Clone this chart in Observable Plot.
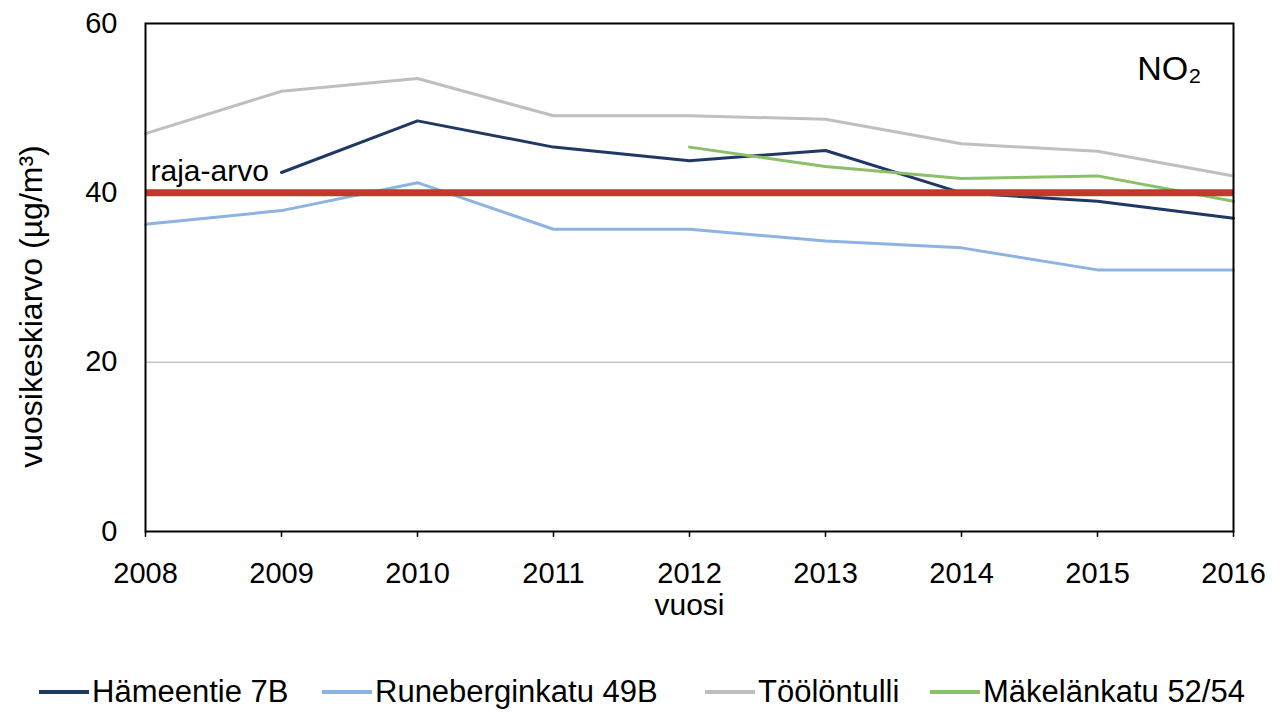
<!DOCTYPE html>
<html>
<head>
<meta charset="utf-8">
<script src="https://cdn.jsdelivr.net/npm/d3@7"></script>
<script src="https://cdn.jsdelivr.net/npm/@observablehq/plot@0.6"></script>
<style>
  body { margin: 0; background: #fff; font-family: "Liberation Sans", Arial, sans-serif; }
  #wrap { position: relative; width: 1284px; height: 715px; }
  #legend { position: absolute; left: 0; top: 674px; width: 1284px; height: 40px; font-size: 31px; color: #000; }
  .item { position: absolute; top: 0; display: flex; align-items: center; white-space: nowrap; }
  .sw { width: 50px; height: 4px; margin-right: 3px; }
</style>
</head>
<body>
<div id="wrap">
  <div id="chart"></div>
  <div id="legend"></div>
</div>
<script>
const years = [2008, 2009, 2010, 2011, 2012, 2013, 2014, 2015, 2016];
const seriesNames = ["Hämeentie 7B", "Runeberginkatu 49B", "Töölöntulli", "Mäkelänkatu 52/54"];
const seriesColors = ["#1f3864", "#8db3e2", "#bfbfbf", "#8cc068"];
const hameentie = [null, 42.4, 48.5, 45.4, 43.8, 45.0, 40.0, 39.0, 37.0];
const runeberginkatu = [36.3, 37.9, 41.2, 35.7, 35.7, 34.3, 33.5, 30.9, 30.9];
const toolontulli = [47.0, 52.0, 53.5, 49.1, 49.1, 48.7, 45.8, 44.9, 42.0];
const makelankatu = [null, null, null, null, 45.4, 43.1, 41.7, 42.0, 39.0];
const limitValue = 40;
const yTicks = [0, 20, 40, 60];
const gridValues = [20];

const seriesValues = [hameentie, runeberginkatu, toolontulli, makelankatu];
const data = [];
seriesValues.forEach((vals, i) => {
  vals.forEach((v, j) => data.push({series: seriesNames[i], year: years[j], value: v}));
});

const H = 650;
const chart = Plot.plot({
  width: 1284,
  height: H,
  marginTop: 23,
  marginLeft: 145,
  marginRight: 51,
  marginBottom: H - 531,
  style: {fontFamily: "'Liberation Sans', Arial, sans-serif", fontSize: "29px", color: "#000", background: "#fff"},
  x: {domain: [2008, 2016]},
  y: {domain: [0, 60]},
  color: {domain: seriesNames, range: seriesColors},
  marks: [
    Plot.ruleY(gridValues, {stroke: "#a6a6a6", strokeWidth: 1}),
    Plot.line(data, {x: "year", y: "value", z: "series", stroke: "series", strokeWidth: 3, defined: d => d.value != null}),
    Plot.ruleY([limitValue], {stroke: "#c0392b", strokeWidth: 7}),
    Plot.frame({stroke: "#000", strokeWidth: 2}),
    Plot.axisX({ticks: years, tickSize: 6, tickPadding: 25, tickFormat: d => String(d), label: null, stroke: "#000", strokeWidth: 1.5}),
    Plot.axisY({ticks: yTicks, tickSize: 0, tickPadding: 28, label: null}),
    Plot.text(["vuosi"], {frameAnchor: "bottom", dy: 74, textAnchor: "middle", lineAnchor: "middle", fontSize: 30, fill: "#000"}),
    Plot.text(["vuosikeskiarvo (µg/m³)"], {frameAnchor: "left", rotate: -90, dx: -114, dy: 29, textAnchor: "middle", lineAnchor: "middle", fontSize: 32, fill: "#000"}),
    Plot.text(["NO₂"], {frameAnchor: "top-right", dx: -32, dy: 46, textAnchor: "end", lineAnchor: "middle", fontSize: 34, fill: "#000"}),
    Plot.text([limitValue], {x: () => 2008, y: d => d, text: () => "raja-arvo", dx: 5, dy: -21, textAnchor: "start", lineAnchor: "middle", fontSize: 30, fill: "#000"})
  ]
});
document.getElementById("chart").appendChild(chart);

const legendX = [39, 322, 705, 930];
const legend = document.getElementById("legend");
seriesNames.forEach((name, i) => {
  const item = document.createElement("div");
  item.className = "item";
  item.style.left = legendX[i] + "px";
  const sw = document.createElement("div");
  sw.className = "sw";
  sw.style.background = seriesColors[i];
  const t = document.createElement("span");
  t.textContent = name;
  item.appendChild(sw);
  item.appendChild(t);
  legend.appendChild(item);
});
</script>
</body>
</html>
